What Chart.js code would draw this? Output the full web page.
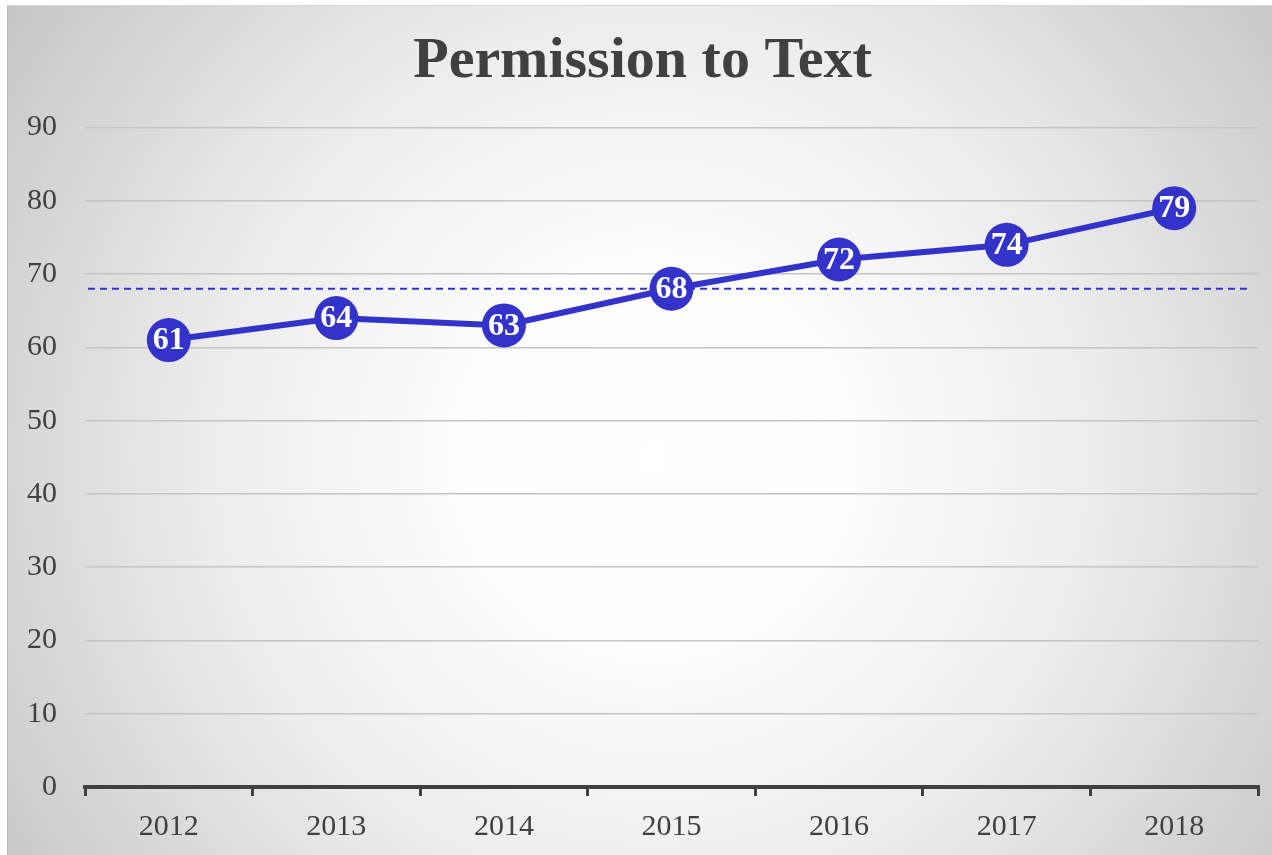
<!DOCTYPE html>
<html>
<head>
<meta charset="utf-8">
<script src="https://cdn.jsdelivr.net/npm/chart.js@4"></script>
<style>
  html, body { margin: 0; padding: 0; background: #ffffff; width: 1272px; height: 855px; overflow: hidden; }
  #wrap {
    position: absolute; left: 7px; top: 5px; width: 1265px; height: 850px;
    border-left: 1px solid #b8b8b8; border-top: 1px solid #d8d8d8; box-sizing: border-box;
    background: radial-gradient(circle farthest-corner at 51% 53%, #ffffff 0%, #fdfdfd 24%, #ececec 57%, #d6d6d6 82%, #c6c6c6 100%);
  }
</style>
</head>
<body>
<div id="wrap"><canvas id="c"></canvas></div>
<script>
const categories = ['2012', '2013', '2014', '2015', '2016', '2017', '2018'];
const permissionValues = [61, 64, 63, 68, 72, 74, 79];
const referenceLine = [68];
const yTicks = [0, 10, 20, 30, 40, 50, 60, 70, 80, 90];

const SERIF = '"Liberation Serif", "Times New Roman", serif';
const LINE_COLOR = '#3333cc';

const refLinePlugin = {
  id: 'refLine',
  beforeDatasetsDraw(chart) {
    const { ctx, chartArea, scales } = chart;
    const y = scales.y.getPixelForValue(referenceLine[0]);
    ctx.save();
    ctx.strokeStyle = LINE_COLOR;
    ctx.lineWidth = 2;
    ctx.setLineDash([7, 5]);
    ctx.beginPath();
    ctx.moveTo(chartArea.left + 3, y);
    ctx.lineTo(chartArea.right - 6, y);
    ctx.stroke();
    ctx.restore();
  }
};

const labelPlugin = {
  id: 'pointLabels',
  afterDatasetsDraw(chart) {
    const { ctx } = chart;
    const meta = chart.getDatasetMeta(0);
    ctx.save();
    ctx.fillStyle = '#ffffff';
    ctx.font = 'bold 32px ' + SERIF;
    ctx.textAlign = 'center';
    ctx.textBaseline = 'middle';
    meta.data.forEach((pt, i) => {
      ctx.fillText(String(permissionValues[i]), pt.x, pt.y + 1);
    });
    ctx.restore();
  }
};

new Chart(document.getElementById('c'), {
  type: 'line',
  data: {
    labels: categories,
    datasets: [{
      label: 'Permission to Text',
      data: permissionValues,
      borderColor: LINE_COLOR,
      backgroundColor: LINE_COLOR,
      borderWidth: 6,
      pointRadius: 22,
      pointHoverRadius: 22,
      pointBackgroundColor: LINE_COLOR,
      pointBorderColor: LINE_COLOR,
      pointBorderWidth: 0,
      tension: 0,
      fill: false,
      clip: false
    }]
  },
  options: {
    responsive: true,
    maintainAspectRatio: false,
    animation: false,
    events: [],
    layout: { autoPadding: false, padding: { left: 19, right: 14, top: 0, bottom: 0 } },
    plugins: {
      legend: { display: false },
      tooltip: { enabled: false },
      title: {
        display: true,
        text: 'Permission to Text',
        color: '#404040',
        font: { family: SERIF, size: 58, weight: 'bold', lineHeight: 1.2 },
        padding: { top: 21, bottom: 31 }
      }
    },
    scales: {
      x: {
        offset: true,
        afterFit(axis) { axis.height -= 3; },
        grid: {
          offset: true,
          drawOnChartArea: false,
          drawTicks: true,
          tickLength: 9,
          color: '#404040',
          lineWidth: 3
        },
        border: { display: true, color: '#404040', width: 4 },
        ticks: {
          color: '#404040',
          font: { family: SERIF, size: 30, lineHeight: 1.2 },
          padding: 13
        }
      },
      y: {
        min: 0,
        max: 90,
        afterBuildTicks(axis) { axis.ticks = yTicks.map(v => ({ value: v })); },
        afterFit(axis) { axis.width = 58; },
        grid: {
          drawTicks: false,
          color: '#c4c4c4',
          lineWidth: 1.5
        },
        border: { display: false },
        ticks: {
          color: '#404040',
          font: { family: SERIF, size: 30, lineHeight: 1.2 },
          padding: 28
        }
      }
    }
  },
  plugins: [refLinePlugin, labelPlugin]
});
</script>
</body>
</html>
